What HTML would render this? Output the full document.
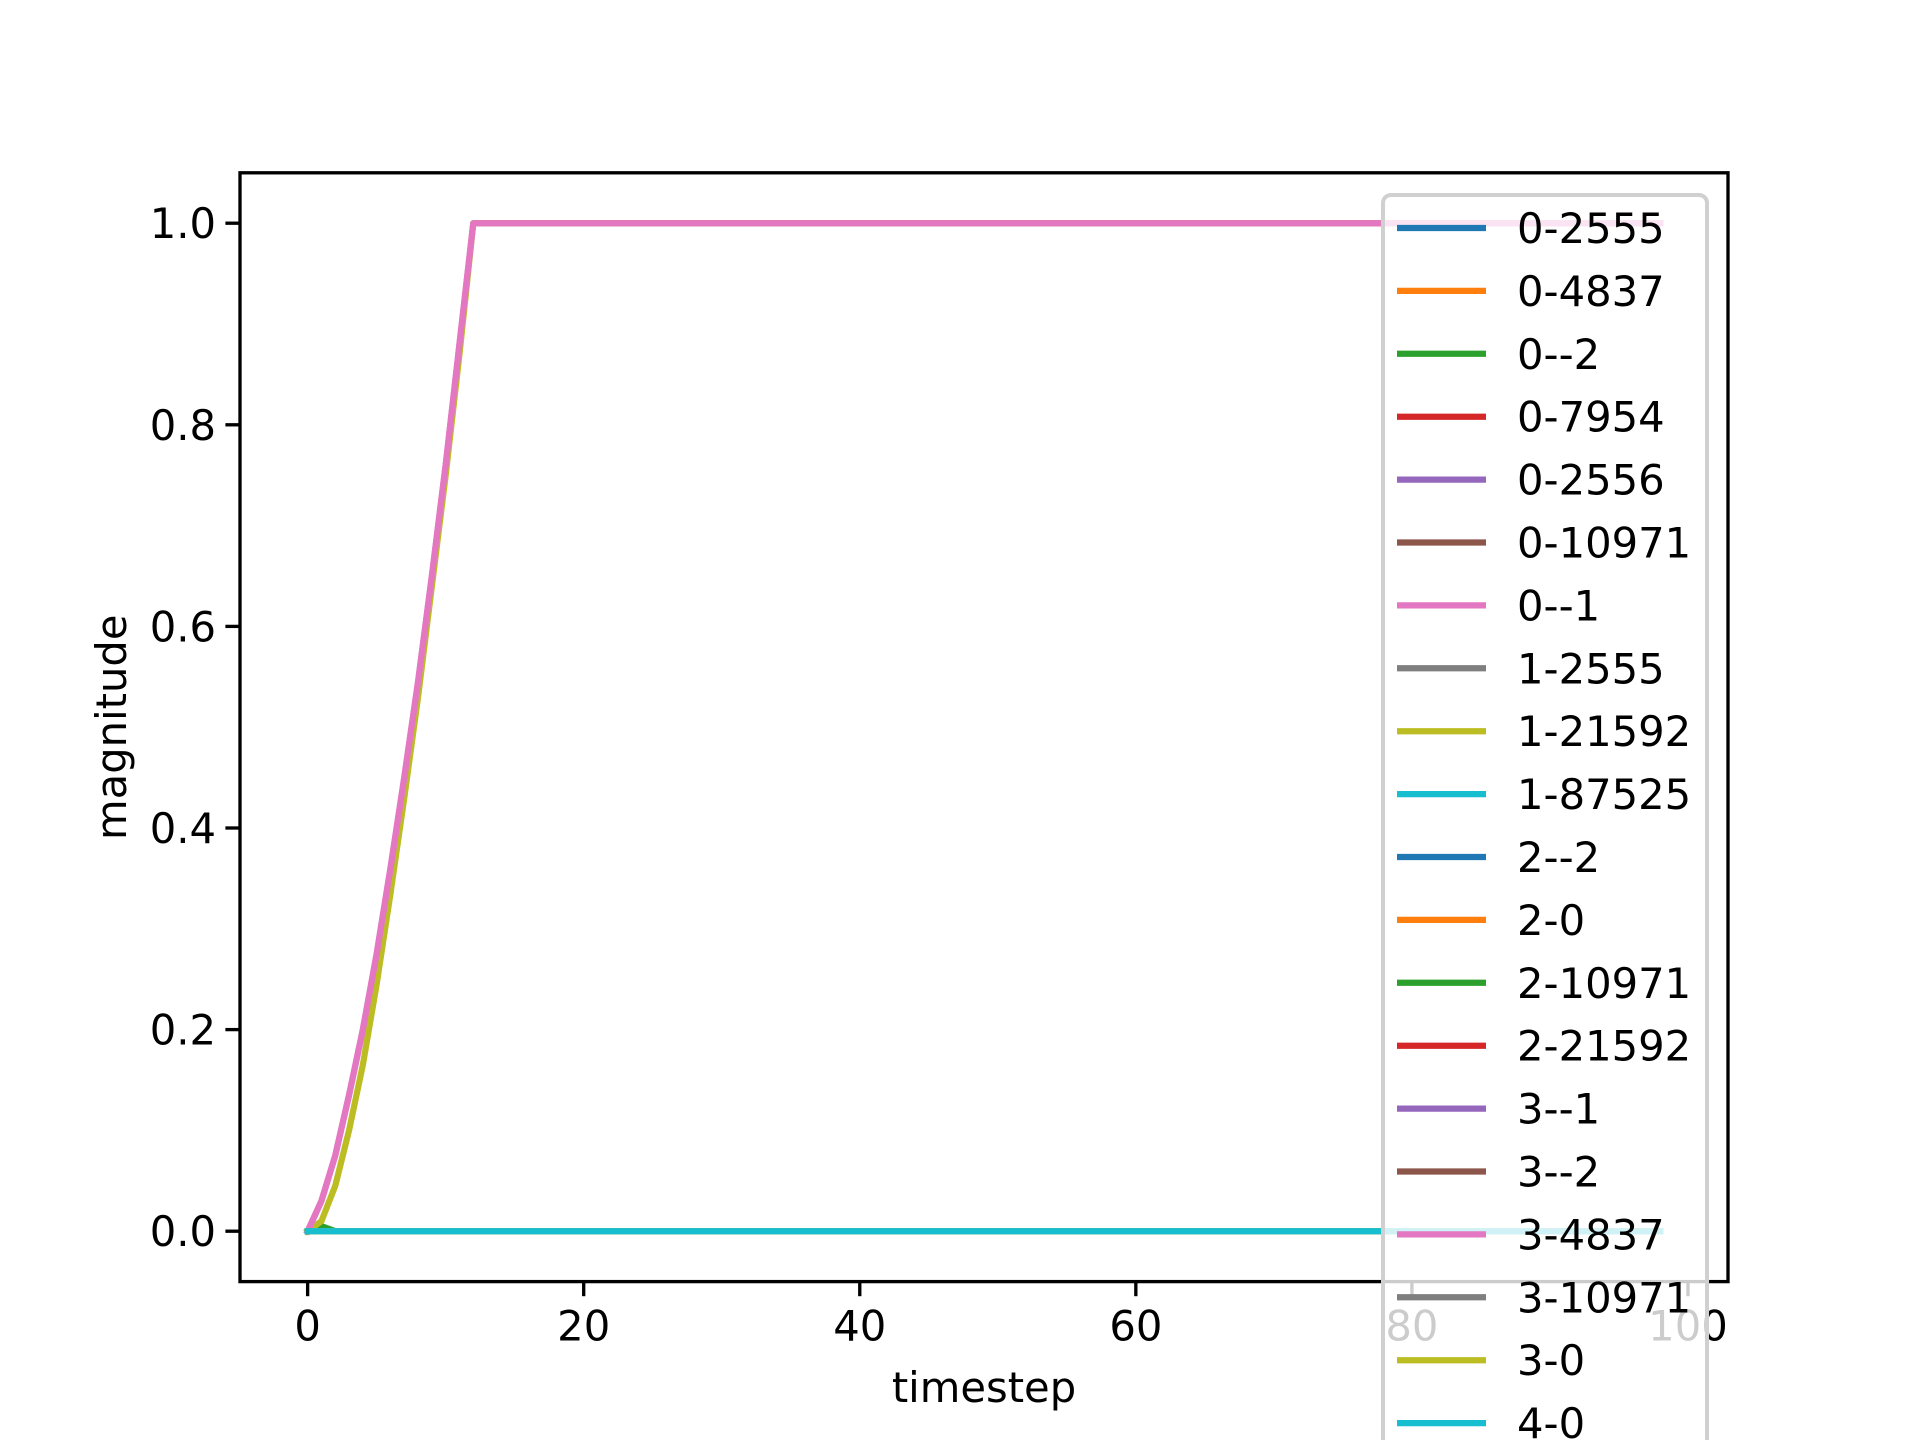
<!DOCTYPE html>
<html><head><meta charset="utf-8"><style>
html,body{margin:0;padding:0;background:#fff;}
svg{display:block;font-family:"DejaVu Sans","Liberation Sans",sans-serif;}
</style></head><body>
<svg id="chart" width="1920" height="1440" viewBox="0 0 1920 1440" xmlns="http://www.w3.org/2000/svg"></svg>
<script>
const seriesNames = ["0-2555","0-4837","0--2","0-7954","0-2556","0-10971","0--1","1-2555","1-21592","1-87525","2--2","2-0","2-10971","2-21592","3--1","3--2","3-4837","3-10971","3-0","4-0"];
const seriesColors = ["#1f77b4","#ff7f0e","#2ca02c","#d62728","#9467bd","#8c564b","#e377c2","#7f7f7f","#bcbd22","#17becf","#1f77b4","#ff7f0e","#2ca02c","#d62728","#9467bd","#8c564b","#e377c2","#7f7f7f","#bcbd22","#17becf"];
const pinkRamp = [0,0.03,0.075,0.135,0.2,0.275,0.36,0.45,0.545,0.65,0.76,0.88,1.0];
const yellowRamp = [0,0.01,0.045,0.1,0.165,0.245,0.335,0.43,0.53,0.64,0.75,0.87,1.0];
const greenBump = [0,0.005,0];
const xTicks = [0,20,40,60,80,100];
const yTicks = [0,0.2,0.4,0.6,0.8,1.0];
const yTickLabels = ["0.0","0.2","0.4","0.6","0.8","1.0"];
const nSteps = 99;
const highPink = ["0--1","3-4837"];
const highYellow = ["1-21592"];
const bumpGreen = ["0--2"];

const L=240,R=1728,T=172.8,B=1281.6;
const xMin=-4.9,xMax=102.9,yMin=-0.05,yMax=1.05;
const xs=v=>L+(v-xMin)/(xMax-xMin)*(R-L);
const ys=v=>B-(v-yMin)/(yMax-yMin)*(B-T);
const NS="http://www.w3.org/2000/svg";
const svg=document.getElementById('chart');
function mk(tag,attrs,parent){const e=document.createElementNS(NS,tag);for(const k in attrs)e.setAttribute(k,attrs[k]);(parent||svg).appendChild(e);return e;}

function seriesValues(name){
  const v=[];
  for(let t=0;t<nSteps;t++){
    let y=0;
    if(highPink.includes(name)) y = t<pinkRamp.length?pinkRamp[t]:1;
    else if(highYellow.includes(name)) y = t<yellowRamp.length?yellowRamp[t]:1;
    else if(bumpGreen.includes(name)) y = t<greenBump.length?greenBump[t]:0;
    v.push(y);
  }
  return v;
}

const plot=mk('g',{});


seriesNames.forEach((name,i)=>{
  const vals=seriesValues(name);
  const d=vals.map((y,t)=>(t?'L':'M')+xs(t).toFixed(2)+' '+ys(y).toFixed(2)).join(' ');
  const p=mk('path',{d:d,fill:'none',stroke:seriesColors[i],'stroke-width':6.25,'stroke-linejoin':'round','stroke-linecap':'square'},plot);
  
  
});

const frame=mk('rect',{x:L,y:T,width:R-L,height:B-T,fill:'none',stroke:'#000','stroke-width':3.33});



xTicks.forEach(v=>{
  const x=xs(v);
  const tk=mk('line',{x1:x,x2:x,y1:B,y2:B+14.6,stroke:'#000','stroke-width':3.33});
  
  
  const tx=mk('text',{x:x,y:B+59,'text-anchor':'middle','font-size':41.7,fill:'#000'});
  tx.textContent=String(v);
  
  
});
yTicks.forEach((v,i)=>{
  const y=ys(v);
  const tk=mk('line',{x1:L-14.6,x2:L,y1:y,y2:y,stroke:'#000','stroke-width':3.33});
  
  
  const tx=mk('text',{x:L-24,y:y+15,'text-anchor':'end','font-size':41.7,fill:'#000'});
  tx.textContent=yTickLabels[i];
  
  
});
const xl=mk('text',{x:(L+R)/2,y:1402,'text-anchor':'middle','font-size':41.7,fill:'#000'});
xl.textContent='timestep';


const yl=mk('text',{x:0,y:0,'text-anchor':'middle','font-size':41.7,fill:'#000',transform:'translate(126,'+((T+B)/2)+') rotate(-90)'});
yl.textContent='magnitude';



const lg=mk('g',{});


const lb=mk('rect',{x:1383,y:195,width:324,height:1300,rx:8,fill:'#fff','fill-opacity':0.8,stroke:'#d0d0d0','stroke-width':4},lg);


seriesNames.forEach((name,i)=>{
  const y=228+i*62.9;
  const ln=mk('line',{x1:1397,x2:1486,y1:y,y2:y,stroke:seriesColors[i],'stroke-width':6.25},lg);
  
  
  const tx=mk('text',{x:1517,y:y+15,'font-size':41.7,fill:'#000'},lg);
  tx.textContent=name;
  
  
});
</script>
</body></html>
